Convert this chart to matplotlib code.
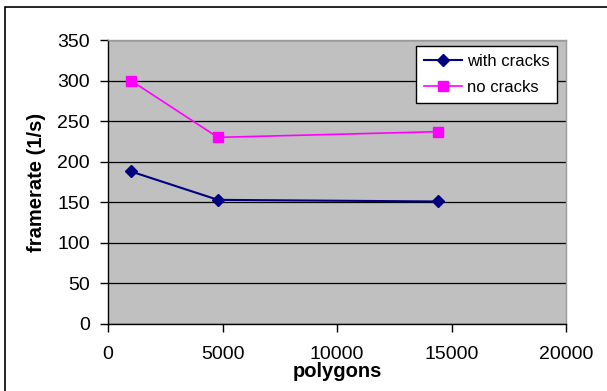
import matplotlib
matplotlib.use("Agg")
import matplotlib.pyplot as plt
from matplotlib.patches import Rectangle

polygons = [1000, 4800, 14400]
with_cracks = [188, 153, 151]
no_cracks = [300, 230, 237]
series_names = ["with cracks", "no cracks"]
x_ticks = [0, 5000, 10000, 15000, 20000]
y_ticks = [0, 50, 100, 150, 200, 250, 300, 350]

plt.rcParams['font.family'] = ['Liberation Sans', 'DejaVu Sans']

W, H = 607, 391
fig = plt.figure(figsize=(W / 100, H / 100), dpi=100)
fig.patch.set_facecolor('white')

# outer border (right and bottom edges lie outside the picture)
fig.add_artist(Rectangle((5 / W, -10 / H), 620 / W, (391 - 7 + 10) / H, transform=fig.transFigure,
                         fill=False, edgecolor='black', linewidth=1.2, clip_on=False))

left, right, top, bottom = 108, 566, 40, 324
ax = fig.add_axes([left / W, 1 - bottom / H, (right - left) / W, (bottom - top) / H])
ax.set_facecolor('#C0C0C0')
ax.set_xlim(0, 20000)
ax.set_ylim(0, 350)
ax.set_xticks(x_ticks)
ax.set_yticks(y_ticks)
ax.yaxis.grid(True, color='black', linewidth=0.9)
ax.set_axisbelow(True)

for s in ['top', 'right']:
    ax.spines[s].set_color('#9a9a9a')
    ax.spines[s].set_linewidth(1.0)
for s in ['left', 'bottom']:
    ax.spines[s].set_color('black')
    ax.spines[s].set_linewidth(1.0)

ax.tick_params(axis='both', direction='out', length=6, width=1, labelsize=14, colors='black')
ax.tick_params(axis='y', pad=7)
ax.tick_params(axis='x', pad=10)

ax.plot(polygons, with_cracks, color='#000080', linewidth=1.5, marker='D', markersize=6.5,
        label=series_names[0], clip_on=False)
ax.plot(polygons, no_cracks, color='#FF00FF', linewidth=1.2, marker='s', markersize=7.5,
        label=series_names[1], clip_on=False)

ax.set_xlabel('polygons', fontsize=14.5, fontweight='bold', labelpad=-1)
ax.set_ylabel('framerate (1/s)', fontsize=14.5, fontweight='bold', labelpad=8)

leg = ax.legend(loc='upper right', bbox_to_anchor=((557 - left) / (right - left), 1 - (46 - top) / (bottom - top)),
                fontsize=12, frameon=True, fancybox=False, framealpha=1, edgecolor='black',
                borderpad=0.45, handlelength=2.3, handletextpad=0.3, labelspacing=0.7,
                borderaxespad=0)
leg.get_frame().set_linewidth(1.0)

fig.savefig('out.png', dpi=100, facecolor='white')
